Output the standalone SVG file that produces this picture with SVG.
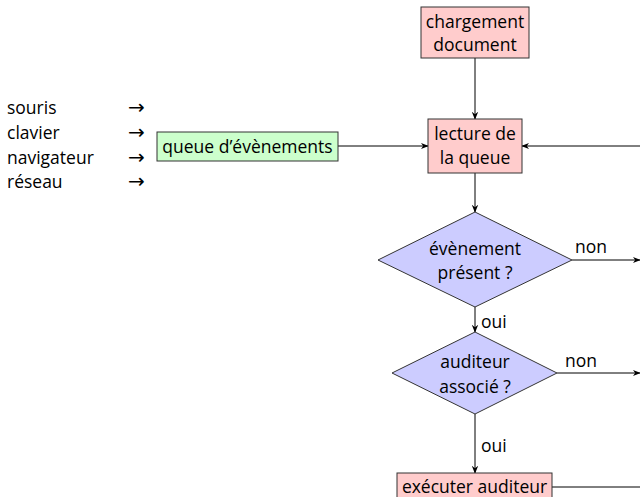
<svg xmlns="http://www.w3.org/2000/svg" width="640" height="497" viewBox="0 0 640 497">
<style>
text{font-family:"Open Sans","Noto Sans",sans-serif;font-size:17.5px;fill:#000}
.c{text-anchor:middle}
.box{stroke:#333;stroke-width:1}
.r{fill:#ffcccc}
.g{fill:#ccffcc}
.b{fill:#ccccff}
.ln{stroke:#000;stroke-width:1;fill:none}
.ar{font-family:"DejaVu Sans",sans-serif;font-size:20px}
</style>
<defs>
<marker id="a" viewBox="0 0 10 10" refX="9" refY="5" markerWidth="8" markerHeight="8" markerUnits="userSpaceOnUse" orient="auto">
<path d="M0,1 L10,5 L0,9 L3,5 Z" fill="#000"/>
</marker>
</defs>
<g id="inputs">
<text x="7" y="114">souris</text>
<text x="7" y="139">clavier</text>
<text x="7" y="164">navigateur</text>
<text x="7" y="188">réseau</text>
<text class="ar" x="128" y="114">→</text>
<text class="ar" x="128" y="139">→</text>
<text class="ar" x="128" y="164">→</text>
<text class="ar" x="128" y="188">→</text>
</g>
<g id="connectors">
<line class="ln" x1="475" y1="58" x2="475" y2="119" marker-end="url(#a)"/>
<line class="ln" x1="338" y1="146" x2="428" y2="146" marker-end="url(#a)"/>
<line class="ln" x1="640" y1="146" x2="522" y2="146" marker-end="url(#a)"/>
<line class="ln" x1="475" y1="173" x2="475" y2="212" marker-end="url(#a)"/>
<line class="ln" x1="572" y1="260" x2="640" y2="260" marker-end="url(#a)"/>
<line class="ln" x1="475" y1="307" x2="475" y2="332" marker-end="url(#a)"/>
<line class="ln" x1="557" y1="373" x2="640" y2="373" marker-end="url(#a)"/>
<line class="ln" x1="475" y1="414" x2="475" y2="473" marker-end="url(#a)"/>
<line class="ln" x1="552" y1="487" x2="640" y2="487"/>
<text x="575" y="253">non</text>
<text x="565" y="367">non</text>
<text x="481" y="328">oui</text>
<text x="481" y="452">oui</text>
</g>
<g id="chargement">
<rect class="box r" x="421" y="7" width="108" height="51"/>
<text class="c" x="475" y="28">chargement</text>
<text class="c" x="475" y="51">document</text>
</g>
<g id="lecture">
<rect class="box r" x="428" y="119" width="94" height="54"/>
<text class="c" x="475" y="140">lecture de</text>
<text class="c" x="475" y="164">la queue</text>
</g>
<g id="queue">
<rect class="box g" x="157" y="132" width="181" height="29"/>
<text class="c" x="247.5" y="153">queue d’évènements</text>
</g>
<g id="evenement">
<polygon class="box b" points="475,212 572,260 475,307 378,260"/>
<text class="c" x="475" y="255">évènement</text>
<text class="c" x="475" y="279">présent ?</text>
</g>
<g id="auditeur">
<polygon class="box b" points="475,332 557,373 475,414 392,373"/>
<text class="c" x="475" y="368">auditeur</text>
<text class="c" x="475" y="393">associé ?</text>
</g>
<g id="executer">
<rect class="box r" x="397" y="473" width="155" height="30"/>
<text class="c" x="474.5" y="493">exécuter auditeur</text>
</g>
</svg>
